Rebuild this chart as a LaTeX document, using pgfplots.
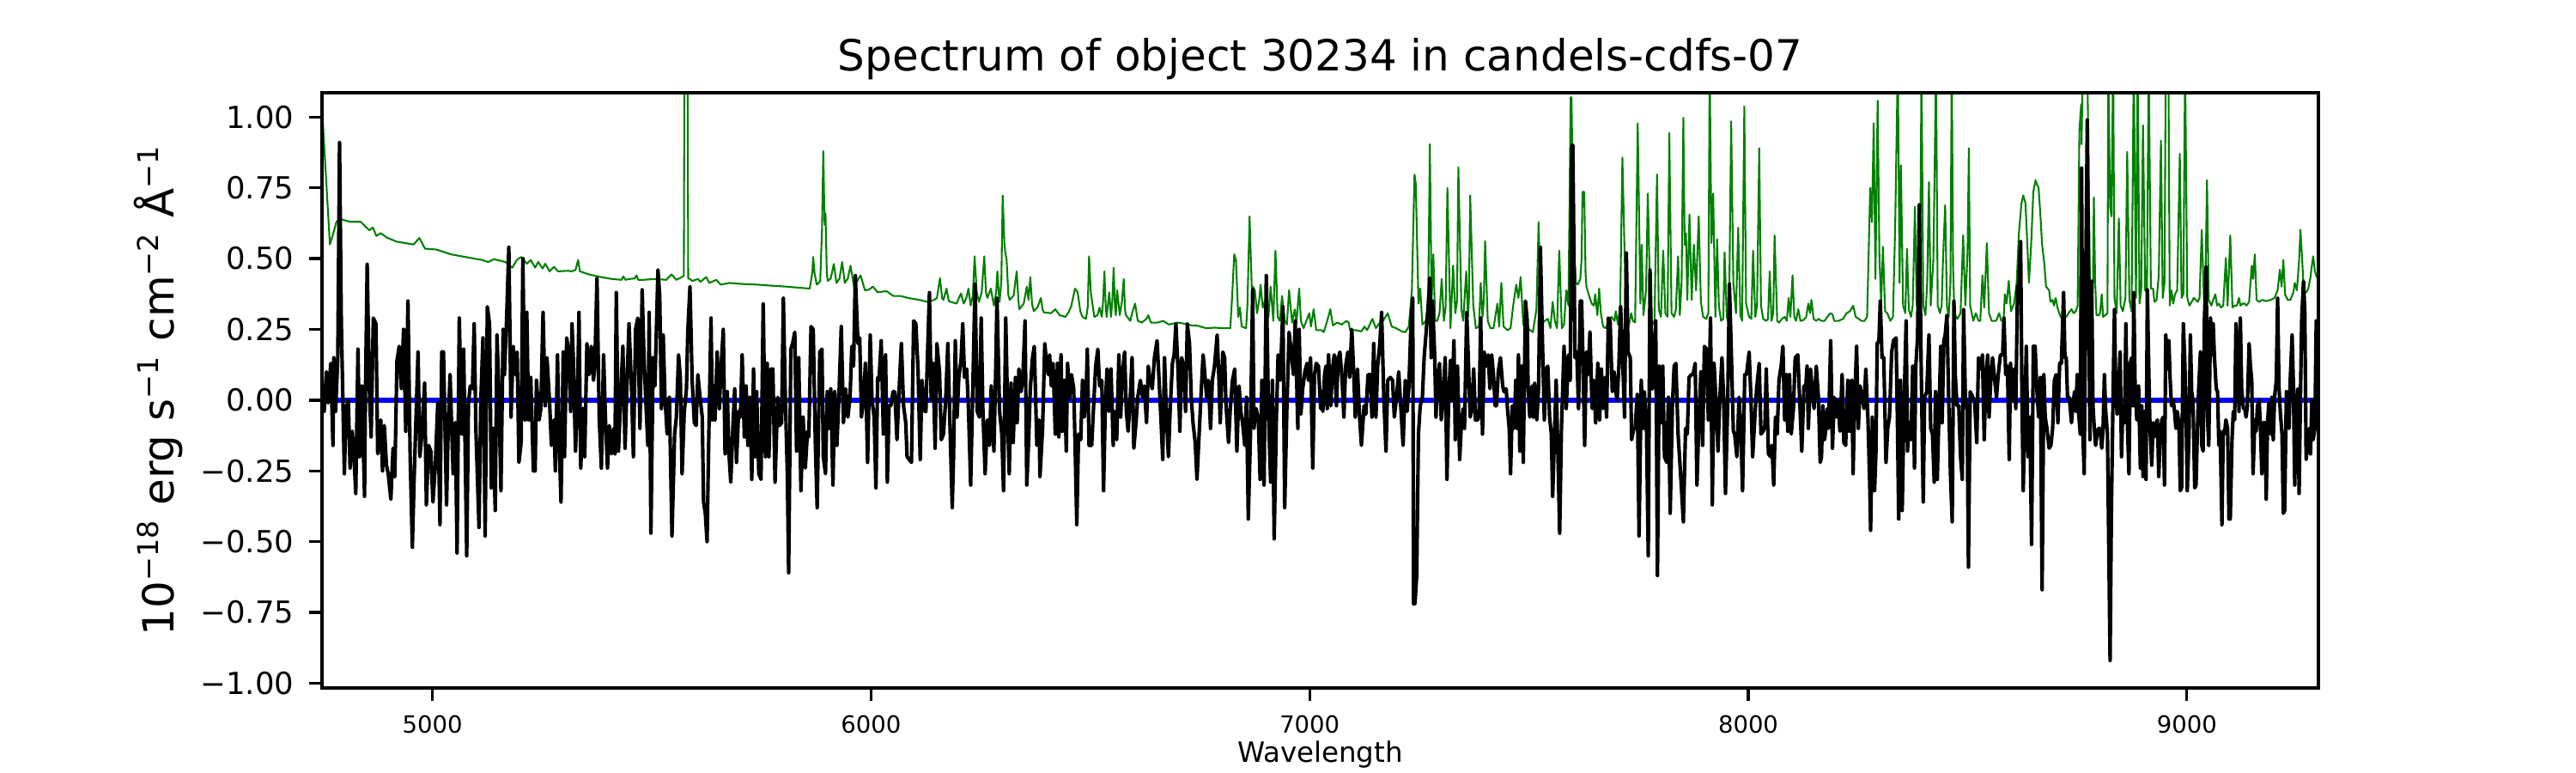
\documentclass[border=0pt]{standalone}
\usepackage{fontspec}
\setmainfont{DejaVu Sans}
\usepackage{pgfplots}
\pgfplotsset{compat=1.18}
\definecolor{mplgreen}{rgb}{0,0.5,0}
\begin{document}
\begin{tikzpicture}
\path[use as bounding box] (0,0) rectangle (720pt,216pt);
\begin{axis}[
  at={(90pt,23.76pt)}, anchor=south west,
  width=558pt, height=166.32pt, scale only axis,
  xmin=4748, xmax=9300, ymin=-1.017, ymax=1.086,
  axis line style={line width=0.8pt},
  axis on top,
  tick align=outside, major tick length=3.5pt,
  every tick/.style={black, line width=0.8pt},
  xtick pos=left, ytick pos=left,
  xtick={5000,6000,7000,8000,9000},
  xticklabels={5000,6000,7000,8000,9000},
  ytick={-1,-0.75,-0.5,-0.25,0,0.25,0.5,0.75,1},
  yticklabels={−1.00,−0.75,−0.50,−0.25,0.00,0.25,0.50,0.75,1.00},
  xticklabel style={font=\fontsize{6.6}{8}\selectfont, inner sep=0pt, anchor=north, yshift=-3.94pt},
  yticklabel style={font=\fontsize{8.5}{10}\selectfont, inner sep=0pt, anchor=east, xshift=-4.2pt},
  scaled ticks=false, no markers,
  every axis plot/.append style={line join=round},
]
\addplot[mplgreen, line width=0.5pt] coordinates {
(4750,0.98)(4766,0.55)(4772,0.58)(4781,0.63)(4790,0.64)(4800,0.635)(4813,0.63)(4836,0.63)(4856,0.60)(4864,0.61)(4872,0.58)(4882,0.59)(4895,0.575)(4918,0.56)(4937,0.555)(4957,0.55)(4970,0.573)(4983,0.535)(5009,0.532)(5042,0.515)(5074,0.506)(5113,0.495)(5127,0.488)(5140,0.498)(5166,0.488)(5182,0.468)(5192,0.495)(5202,0.506)(5215,0.482)(5224,0.495)(5234,0.468)(5241,0.488)(5251,0.465)(5257,0.482)(5267,0.455)(5277,0.471)(5286,0.455)(5309,0.457)
(5318,0.455)(5326,0.46)(5332,0.495)(5336,0.455)(5357,0.444)(5383,0.435)(5409,0.428)(5431,0.425)(5435,0.437)(5440,0.425)(5449,0.428)(5461,0.43)(5465,0.441)(5469,0.425)(5481,0.425)(5507,0.428)(5533,0.425)(5545,0.444)(5556,0.425)(5569,0.435)(5573,0.44)(5575,1.5)(5581,1.5)(5583,0.43)(5587,0.428)(5592,0.421)(5605,0.428)(5611,0.418)(5624,0.435)(5631,0.414)(5647,0.425)(5657,0.408)(5677,0.414)(5709,0.41)(5742,0.408)(5775,0.404)(5807,0.401)(5860,0.394)(5866,0.45)(5868,0.506)(5871,0.45)(5876,0.408)(5884,0.42)(5888,0.60)(5891,0.88)(5894,0.62)(5896,0.66)(5899,0.45)
(5901,0.421)(5908,0.43)(5915,0.481)(5921,0.414)(5928,0.43)(5934,0.488)(5940,0.414)(5947,0.43)(5953,0.475)(5961,0.401)(5968,0.42)(5976,0.441)(5986,0.388)(5995,0.39)(6004,0.401)(6015,0.381)(6035,0.385)(6051,0.368)(6067,0.368)(6084,0.361)(6110,0.354)(6129,0.347)(6143,0.354)(6150,0.36)(6157,0.431)(6162,0.36)(6165,0.354)(6172,0.394)(6177,0.35)(6182,0.347)(6195,0.341)(6200,0.36)(6205,0.377)(6211,0.341)(6217,0.36)(6222,0.394)(6227,0.334)(6232,0.37)(6236,0.508)(6241,0.38)(6246,0.347)(6252,0.38)(6258,0.508)(6262,0.38)(6265,0.361)(6273,0.394)(6280,0.334)(6285,0.38)(6288,0.455)(6291,0.38)(6293,0.347)(6297,0.42)(6300,0.723)(6304,0.55)(6306,0.522)(6309,0.495)(6313,0.37)(6316,0.354)(6325,0.37)(6332,0.455)(6336,0.35)(6338,0.321)(6348,0.341)(6355,0.401)(6359,0.354)(6363,0.435)(6367,0.34)(6371,0.314)(6380,0.33)(6387,0.361)(6391,0.32)(6394,0.310)(6410,0.307)(6420,0.321)(6430,0.300)(6443,0.294)(6450,0.31)(6456,0.330)
(6465,0.394)(6471,0.381)(6477,0.314)(6482,0.294)(6490,0.287)(6494,0.33)(6497,0.508)(6501,0.38)(6504,0.347)(6509,0.294)(6516,0.300)(6521,0.327)(6526,0.294)(6529,0.35)(6532,0.455)(6535,0.33)(6537,0.294)(6543,0.381)(6547,0.294)(6550,0.35)(6553,0.468)(6556,0.33)(6558,0.300)(6561,0.388)(6567,0.300)(6572,0.35)(6576,0.428)(6579,0.32)(6581,0.300)(6591,0.280)(6595,0.307)(6602,0.341)(6608,0.280)(6617,0.274)(6628,0.287)(6632,0.300)(6638,0.274)(6653,0.274)(6666,0.280)(6679,0.267)(6699,0.274)(6715,0.270)(6731,0.264)(6744,0.263)(6764,0.254)(6783,0.256)(6803,0.254)(6819,0.254)(6823,0.361)(6828,0.515)(6832,0.495)(6837,0.294)(6841,0.327)(6845,0.260)(6855,0.254)(6858,0.334)(6863,0.649)(6868,0.394)(6871,0.40)(6875,0.388)(6880,0.307)(6885,0.354)(6888,0.408)(6893,0.327)(6900,0.361)(6906,0.294)(6911,0.401)(6917,0.280)(6922,0.528)(6927,0.294)(6932,0.280)(6937,0.368)(6943,0.280)(6948,0.267)(6953,0.388)(6960,0.274)(6966,0.321)(6970,0.274)(6976,0.394)(6980,0.280)(6986,0.254)(6991,0.274)(6999,0.307)(7003,0.260)(7009,0.321)(7015,0.247)(7022,0.247)
(7027,0.247)(7032,0.240)(7039,0.274)(7047,0.321)(7053,0.264)(7063,0.274)(7073,0.267)(7084,0.280)(7089,0.274)(7092,0.247)(7105,0.247)(7118,0.243)(7125,0.260)(7131,0.247)(7143,0.287)(7151,0.254)(7158,0.270)(7167,0.280)(7178,0.307)(7187,0.260)(7197,0.254)(7210,0.243)(7218,0.240)(7226,0.260)(7233,0.388)(7239,0.797)(7242,0.763)(7248,0.341)(7252,0.394)(7257,0.267)(7265,0.280)(7270,0.33)(7274,0.904)(7278,0.354)(7282,0.515)(7286,0.280)(7291,0.280)(7296,0.307)(7301,0.428)(7306,0.280)(7310,0.33)(7314,0.750)(7321,0.254)(7327,0.475)(7332,0.307)(7336,0.35)(7339,0.823)(7346,0.321)(7350,0.280)(7357,0.455)(7361,0.294)(7363,0.35)(7366,0.723)(7373,0.334)(7379,0.254)(7386,0.260)(7390,0.414)(7394,0.294)(7397,0.35)(7400,0.562)(7406,0.280)(7412,0.254)(7419,0.254)(7428,0.341)(7432,0.260)(7437,0.414)(7442,0.260)(7451,0.247)(7458,0.254)(7464,0.334)(7471,0.408)(7476,0.361)(7481,0.435)(7487,0.267)(7497,0.254)(7509,0.240)(7517,0.321)(7522,0.629)(7528,0.267)(7536,0.280)(7543,0.287)(7549,0.254)(7554,0.347)(7559,0.280)(7564,0.254)(7569,0.528)(7575,0.254)(7580,0.267)(7585,0.388)(7590,0.334)(7595,1.07)
(7597,1.07)(7600,0.75)(7602,0.549)(7607,0.414)(7611,0.408)(7617,0.428)(7620,0.5)(7622,0.736)(7626,0.736)(7629,0.45)(7631,0.401)(7636,0.374)(7643,0.341)(7648,0.334)(7651,0.374)(7656,0.300)(7660,0.394)(7664,0.307)(7669,0.260)(7675,0.254)(7682,0.280)(7688,0.294)(7695,0.280)(7698,0.314)(7703,0.267)(7708,0.334)(7713,0.857)(7718,0.522)(7722,0.280)(7728,0.267)(7733,0.307)(7737,0.280)(7742,0.274)(7748,0.978)(7754,0.341)(7757,0.549)(7761,0.300)(7767,0.388)(7771,0.730)(7775,0.455)(7780,0.280)(7786,0.267)(7792,0.797)(7796,0.321)(7801,0.294)(7806,0.528)(7811,0.307)(7816,0.294)(7820,0.944)(7825,0.307)(7831,0.294)(7835,0.321)(7840,0.508)(7844,0.300)(7848,0.414)(7852,0.998)(7855,0.549)(7858,0.589)(7861,0.354)(7866,0.656)(7871,0.354)(7876,0.549)(7881,0.388)(7887,0.649)(7892,0.347)(7897,0.294)(7904,0.287)(7909,0.307)(7912,1.2)(7916,0.555)(7920,0.730)(7925,0.294)(7929,0.569)(7933,0.334)(7938,0.280)(7943,0.287)(7946,0.522)(7951,0.294)(7955,0.274)(7957,0.414)(7961,0.985)(7966,0.414)(7972,0.307)(7977,0.609)(7982,0.300)(7986,0.280)(7991,1.038)(7995,0.341)(8002,0.294)(8007,0.287)(8011,0.528)(8016,0.294)(8020,0.334)(8025,0.890)(8029,0.334)(8034,0.287)(8041,0.280)(8045,0.287)(8049,0.455)(8053,0.280)(8057,0.307)(8060,0.582)(8066,0.280)(8070,0.274)(8077,0.287)(8083,0.294)(8088,0.280)(8092,0.361)(8096,0.294)(8101,0.441)(8105,0.294)(8109,0.280)(8114,0.321)(8119,0.280)(8126,0.283)(8132,0.294)(8137,0.341)(8141,0.307)(8144,0.354)(8149,0.287)(8155,0.280)(8160,0.287)
(8167,0.280)(8174,0.280)(8180,0.294)(8187,0.307)(8192,0.303)(8196,0.280)(8206,0.280)(8216,0.287)(8224,0.307)(8232,0.314)(8239,0.334)(8245,0.294)(8252,0.287)(8258,0.280)(8265,0.280)(8271,0.294)(8275,0.549)(8278,0.750)(8282,0.629)(8286,0.978)(8290,0.428)(8295,1.058)(8299,0.508)(8303,0.341)(8307,0.542)(8312,0.314)(8317,0.307)(8324,0.280)(8330,0.294)(8335,0.616)(8341,1.2)(8345,0.414)(8348,0.830)(8353,0.334)(8358,0.307)(8362,0.535)(8366,0.321)(8371,0.294)(8375,0.334)(8380,0.683)(8384,0.341)(8389,0.294)(8392,0.495)(8395,1.2)(8399,0.334)(8404,0.300)(8408,0.414)(8412,0.770)(8416,0.334)(8422,0.495)(8425,0.817)(8428,1.2)(8432,0.334)(8437,0.307)(8441,0.334)(8444,0.495)(8449,0.689)(8453,0.334)(8457,0.294)(8461,0.414)(8464,1.2)(8467,0.468)(8470,0.307)(8477,0.287)(8484,0.307)(8490,0.582)(8495,0.334)(8500,0.522)(8503,0.890)(8506,0.334)(8513,0.280)(8519,0.307)(8525,0.280)(8529,0.280)(8534,0.441)(8538,0.327)(8544,0.555)(8549,0.307)(8555,0.280)(8565,0.280)(8572,0.307)(8577,0.280)(8582,0.280)(8585,0.374)(8589,0.341)(8594,0.421)(8599,0.314)(8606,0.341)(8612,0.414)(8617,0.589)(8623,0.696)(8627,0.723)(8632,0.696)(8636,0.562)(8640,0.414)(8645,0.549)(8650,0.736)(8655,0.777)(8658,0.763)(8662,0.750)(8666,0.656)(8670,0.549)(8675,0.482)(8679,0.401)(8686,0.388)(8689,0.347)(8694,0.354)(8697,0.334)(8701,0.361)(8705,0.327)(8712,0.294)(8719,0.287)(8725,0.294)(8730,0.307)(8737,0.321)
(8742,0.307)(8747,0.314)(8751,0.334)(8755,0.951)(8759,1.045)(8760,0.904)(8763,1.2)(8766,1.2)(8770,1.2)(8773,1.2)(8776,0.817)(8779,0.414)(8783,0.307)(8786,0.414)(8788,0.716)(8791,0.414)(8794,0.300)(8799,0.300)(8802,0.307)(8806,0.374)(8809,0.294)(8814,0.300)(8819,0.307)(8821,1.2)(8825,0.683)(8828,0.649)(8832,1.2)(8835,0.361)(8840,0.307)(8845,0.642)(8849,0.334)(8854,0.314)(8860,0.361)(8864,0.877)(8869,0.354)(8874,0.314)(8879,1.2)(8884,0.361)(8888,1.2)(8892,0.341)(8896,0.388)(8900,0.971)(8905,0.388)(8909,0.381)(8913,1.2)(8918,0.394)(8923,0.394)(8926,0.347)(8931,0.354)(8936,0.441)(8941,0.917)(8945,0.361)(8949,0.414)(8952,1.2)(8958,1.2)(8961,0.334)(8965,0.388)(8969,0.341)(8973,0.374)(8978,0.388)(8984,0.870)(8988,0.361)(8992,0.374)(8996,1.2)(9001,0.361)(9006,0.334)(9011,0.347)(9016,0.361)(9021,0.354)(9025,0.347)(9029,0.361)(9034,0.602)(9039,0.361)(9042,0.388)(9046,0.777)(9050,0.354)(9056,0.334)(9060,0.354)(9065,0.374)(9069,0.334)(9073,0.341)(9078,0.327)(9083,0.334)(9089,0.502)(9093,0.334)(9099,0.582)(9104,0.327)(9109,0.334)(9114,0.334)(9119,0.361)(9122,0.334)(9127,0.341)(9132,0.341)(9136,0.334)(9142,0.347)(9148,0.475)(9151,0.428)(9155,0.515)(9159,0.354)(9165,0.347)(9171,0.354)(9181,0.350)(9191,0.354)(9200,0.361)(9207,0.388)(9212,0.461)(9216,0.401)(9220,0.495)(9224,0.374)(9230,0.354)(9236,0.354)(9243,0.381)(9246,0.414)(9251,0.388)(9256,0.495)(9259,0.602)(9263,0.495)(9267,0.374)(9272,0.381)(9277,0.394)(9282,0.435)(9285,0.475)(9288,0.508)(9292,0.455)(9295,0.441)(9298,0.428)
};
\addplot[blue, line width=1.5pt] coordinates {(4748,0) (9298,0)};
\addplot[black, line width=1pt] coordinates {
(4748,-0.03)(4753,-0.04)(4758,0.10)(4762,-0.01)(4768,0.13)(4773,-0.16)(4775,0.15)(4779,-0.04)(4784,0.15)(4788,0.91)(4792,0.28)(4799,-0.26)(4803,-0.03)(4808,0.00)(4812,-0.24)(4817,-0.11)(4821,-0.20)(4825,-0.33)(4830,0.18)(4834,-0.20)(4839,0.05)(4845,-0.34)(4847,0.01)(4851,0.48)(4856,0.04)(4860,-0.13)(4865,0.29)(4871,0.27)(4875,-0.19)(4882,-0.07)(4886,-0.25)(4890,-0.09)(4895,-0.23)(4899,-0.26)(4905,-0.35)(4910,-0.17)(4914,-0.27)(4919,0.14)(4924,0.19)(4929,0.04)(4934,0.25)(4939,-0.11)(4944,0.35)(4949,-0.20)(4954,-0.52)(4958,-0.28)(4967,0.17)(4971,-0.20)(4976,-0.12)(4982,0.06)(4986,-0.37)(4991,-0.16)(4996,-0.18)(5001,-0.36)(5006,-0.24)(5012,-0.01)(5017,-0.44)(5021,0.17)(5025,0.17)(5032,-0.37)(5036,-0.08)(5040,0.09)(5047,-0.26)(5052,-0.08)(5056,-0.54)(5061,0.29)(5067,-0.12)(5071,0.18)(5078,-0.55)(5082,-0.01)(5086,0.05)(5091,0.04)(5095,0.27)(5099,-0.11)(5106,-0.45)(5110,-0.01)(5115,0.22)(5120,-0.48)(5125,0.33)(5130,0.27)(5134,-0.31)(5138,-0.10)(5143,-0.39)(5147,0.23)(5151,0.05)(5156,-0.32)(5161,0.25)(5164,0.09)(5169,0.29)(5174,0.54)(5179,-0.06)(5184,0.19)(5189,0.09)(5193,0.17)(5197,-0.22)(5202,-0.15)(5206,0.50)(5211,-0.07)(5215,0.31)(5219,-0.07)(5224,0.08)(5230,-0.25)(5234,-0.25)(5237,0.07)(5243,-0.07)(5247,-0.03)(5252,0.31)(5257,-0.02)(5261,0.15)(5267,-0.01)(5271,-0.16)(5277,-0.07)(5280,-0.25)(5285,0.16)(5288,-0.11)(5293,-0.36)(5298,0.17)(5301,-0.20)(5306,0.22)(5311,0.16)(5315,-0.04)
(5318,0.27)(5321,0.15)(5326,-0.18)(5330,-0.02)(5334,0.31)(5338,-0.24)(5343,-0.03)(5347,-0.20)(5352,0.20)(5357,0.09)(5362,0.19)(5367,0.07)(5370,0.12)(5375,0.43)(5380,-0.06)(5385,-0.24)(5390,0.16)(5395,-0.10)(5399,-0.24)(5403,-0.09)(5408,-0.19)(5413,-0.10)(5416,-0.19)(5419,0.38)(5424,-0.18)(5429,0.01)(5434,0.19)(5439,-0.17)(5443,0.04)(5448,0.27)(5454,0.03)(5458,-0.20)(5463,0.25)(5468,0.29)(5473,-0.10)(5478,0.39)(5482,0.16)(5486,0.01)(5491,-0.16)(5494,0.31)(5498,-0.47)(5503,0.15)(5507,0.05)(5511,0.28)(5514,0.46)(5518,0.37)(5522,-0.03)(5526,0.23)(5530,0.01)(5535,-0.12)(5540,0.01)(5546,-0.48)(5552,-0.12)(5556,-0.06)(5561,0.16)(5565,0.08)(5569,-0.26)(5574,-0.04)(5579,0.04)(5582,0.24)(5587,0.40)(5592,0.07)(5597,-0.08)(5601,-0.09)(5605,0.09)(5610,0.01)(5615,-0.06)(5618,-0.36)(5622,-0.40)(5626,-0.50)(5630,-0.12)(5635,0.29)(5638,-0.07)(5641,0.05)(5644,-0.07)(5649,0.17)(5654,-0.03)(5657,0.09)(5663,0.25)(5667,-0.19)(5672,0.03)(5676,-0.19)(5680,-0.29)(5685,-0.09)(5689,0.04)(5693,-0.22)(5698,-0.04)(5702,-0.06)(5706,0.16)(5711,-0.13)(5715,0.05)(5719,-0.16)(5724,0.01)(5728,-0.28)(5732,0.11)(5736,-0.20)(5739,0.03)(5744,-0.26)(5749,-0.28)(5754,0.34)(5759,-0.20)(5763,0.13)(5767,-0.20)(5772,0.11)(5776,0.11)(5781,-0.29)(5787,0.01)(5791,-0.09)(5796,-0.08)(5800,0.36)(5804,0.04)(5809,-0.26)(5812,-0.61)(5817,0.18)(5821,0.20)(5826,0.24)(5830,-0.18)(5835,0.15)(5840,-0.32)(5845,-0.06)(5850,-0.24)(5855,-0.11)(5858,-0.13)(5863,0.26)(5868,0.25)(5873,-0.16)(5877,-0.38)(5883,0.17)
(5888,0.18)(5891,-0.20)(5896,-0.26)(5900,0.03)(5904,-0.10)(5908,0.04)(5913,-0.30)(5917,0.03)(5922,-0.16)(5927,0.03)(5932,0.26)(5937,-0.08)(5942,0.04)(5947,-0.06)(5952,0.01)(5956,0.19)(5960,0.12)(5964,0.44)(5970,0.20)(5974,0.22)(5978,-0.06)(5983,0.01)(5987,0.13)(5992,-0.22)(5998,0.23)(6002,0.00)(6007,-0.06)(6011,-0.31)(6015,0.08)(6018,0.07)(6023,0.21)(6028,-0.12)(6033,0.16)(6037,-0.29)(6041,-0.02)(6045,-0.02)(6050,0.03)(6054,0.03)(6059,-0.14)(6064,0.04)(6069,0.20)(6074,-0.02)(6079,-0.08)(6082,-0.20)(6087,-0.21)(6092,-0.22)(6097,0.28)(6102,0.27)(6107,0.11)(6112,-0.21)(6116,0.07)(6122,-0.04)(6125,-0.04)(6128,0.13)(6133,0.38)(6137,0.00)(6141,0.13)(6146,-0.17)(6150,0.20)(6156,0.10)(6160,-0.14)(6165,-0.12)(6170,0.00)(6175,0.20)(6180,-0.10)(6185,-0.38)(6188,-0.20)(6192,0.21)(6196,-0.06)(6200,0.08)(6205,0.14)(6209,0.27)(6213,0.08)(6218,0.11)(6222,-0.03)(6227,-0.30)(6233,0.12)(6237,0.41)(6242,-0.04)(6247,-0.06)(6251,0.29)(6255,-0.04)(6260,-0.26)(6265,-0.07)(6270,-0.16)(6274,0.05)(6280,-0.18)(6284,0.10)(6287,0.36)(6293,-0.04)(6298,-0.12)(6302,-0.32)(6307,0.29)(6312,-0.10)(6315,-0.26)(6319,0.06)(6324,-0.15)(6329,0.08)(6333,-0.08)(6337,0.11)(6342,0.03)(6346,0.08)(6351,0.28)(6355,-0.30)(6359,-0.15)(6363,0.04)(6368,0.15)(6372,0.19)(6378,-0.16)(6383,-0.07)(6385,-0.27)(6391,-0.10)(6396,0.20)(6400,0.13)(6404,0.09)(6407,0.16)(6411,0.05)(6415,0.13)(6420,-0.12)(6425,0.13)(6428,-0.13)(6433,0.16)(6436,-0.11)(6441,0.07)(6445,-0.18)(6448,0.13)(6453,0.01)
(6457,0.09)(6462,0.04)(6465,-0.15)(6469,-0.44)(6473,-0.12)(6478,-0.14)(6482,0.07)(6486,-0.06)(6490,0.01)(6493,0.18)(6497,-0.16)(6503,-0.16)(6508,0.00)(6512,0.12)(6517,0.18)(6521,0.05)(6526,0.07)(6530,-0.32)(6534,-0.02)(6538,0.11)(6542,-0.04)(6547,0.11)(6552,-0.16)(6555,-0.04)(6560,-0.14)(6565,0.16)(6569,-0.06)(6573,0.09)(6578,0.17)(6582,-0.04)(6586,-0.11)(6591,0.01)(6595,0.15)(6599,-0.17)(6604,-0.08)(6608,0.01)(6614,0.07)(6619,0.01)(6623,0.05)(6628,-0.08)(6632,0.12)(6636,0.07)(6641,0.04)(6646,0.15)(6652,0.21)(6656,0.09)(6661,-0.07)(6665,-0.21)(6669,0.15)(6674,-0.08)(6678,-0.20)(6682,-0.03)(6687,0.13)(6691,0.16)(6695,0.27)(6700,0.10)(6704,-0.11)(6708,0.15)(6713,0.12)(6717,-0.04)(6721,0.27)(6726,0.20)(6730,0.01)(6734,-0.08)(6739,-0.15)(6743,-0.28)(6747,-0.15)(6752,0.01)(6757,0.16)(6760,0.11)(6765,0.01)(6769,0.07)(6774,-0.10)(6778,0.07)(6783,0.12)(6789,0.23)(6793,0.08)(6796,-0.08)(6802,0.17)(6806,0.15)(6809,-0.01)(6815,-0.15)(6819,-0.03)(6824,0.07)(6829,0.11)(6834,-0.18)(6839,0.05)(6843,-0.04)(6847,-0.08)(6852,-0.16)(6856,0.01)(6860,-0.42)(6865,-0.12)(6870,0.39)(6873,-0.10)(6878,-0.03)(6883,-0.07)(6887,-0.28)(6891,0.07)(6896,-0.30)(6901,0.44)(6906,-0.04)(6911,-0.29)(6915,0.07)(6919,-0.49)(6924,-0.07)(6928,0.16)(6933,0.07)(6939,0.33)(6943,-0.38)(6948,-0.03)(6953,0.24)(6958,0.17)(6963,0.09)(6967,0.28)(6973,-0.10)(6976,0.25)(6980,-0.05)(6984,0.04)(6989,0.10)(6994,0.13)(6997,0.07)(7002,0.15)(7007,-0.24)(7011,0.09)(7015,0.13)(7020,0.12)(7025,-0.03)
(7027,0.03)(7030,-0.04)(7034,0.09)(7037,0.12)(7040,-0.03)(7043,0.16)(7048,-0.02)(7052,0.11)(7056,0.16)(7061,-0.02)(7065,0.15)(7069,0.17)(7074,0.07)(7078,-0.06)(7082,0.12)(7087,0.17)(7091,0.08)(7096,0.25)(7100,0.11)(7104,-0.06)(7109,0.11)(7113,-0.04)(7118,-0.16)(7124,-0.02)(7128,-0.05)(7133,0.09)(7138,0.09)(7142,-0.06)(7146,0.20)(7151,-0.06)(7155,0.12)(7160,0.20)(7164,0.31)(7169,0.01)(7174,-0.18)(7178,0.07)(7184,0.08)(7189,0.07)(7193,-0.06)(7198,0.01)(7203,0.10)(7208,-0.03)(7213,-0.16)(7218,0.07)(7222,-0.04)(7226,0.04)(7231,0.27)(7235,0.36)(7237,-0.72)(7240,-0.72)(7244,-0.62)(7248,-0.12)(7252,-0.02)(7257,0.01)(7261,0.15)(7265,0.23)(7270,0.33)(7274,0.43)(7277,0.15)(7280,0.35)(7285,0.16)(7288,-0.06)(7291,0.05)(7296,0.13)(7300,-0.07)(7304,0.01)(7309,0.15)(7313,-0.28)(7317,0.01)(7321,0.14)(7324,0.00)(7329,0.21)(7332,-0.14)(7337,0.12)(7342,-0.21)(7346,-0.08)(7350,-0.03)(7353,-0.10)(7358,0.31)(7362,0.13)(7366,-0.06)(7370,-0.03)(7374,0.11)(7378,-0.07)(7383,-0.07)(7386,-0.06)(7390,0.29)(7394,-0.12)(7398,0.17)(7402,0.12)(7407,0.16)(7411,0.04)(7415,0.16)(7419,0.09)(7423,-0.02)(7426,-0.02)(7430,0.10)(7435,0.15)(7440,0.05)(7443,0.03)(7448,0.04)(7451,-0.03)(7455,-0.10)(7458,-0.26)(7462,-0.02)(7466,-0.10)(7470,0.07)(7473,-0.10)(7476,0.16)(7479,-0.18)(7483,0.12)(7487,-0.22)(7492,0.35)(7496,0.28)(7498,0.04)(7502,-0.06)(7507,0.05)(7510,-0.06)(7513,0.06)(7518,-0.07)(7522,0.05)(7526,0.54)(7531,0.19)(7535,-0.07)(7539,0.11)(7543,0.12)(7547,-0.06)(7551,-0.12)(7554,-0.34)(7559,-0.08)(7562,0.07)(7567,-0.26)(7570,-0.47)(7574,-0.10)(7577,0.04)(7580,0.19)(7585,-0.03)(7590,0.16)(7594,0.07)(7598,0.90)
(7600,0.90)(7605,0.15)(7609,0.17)(7613,-0.03)(7617,0.35)(7620,0.35)(7623,0.15)(7627,-0.16)(7631,0.17)(7635,0.09)(7639,0.24)(7644,-0.03)(7648,0.07)(7652,-0.08)(7657,0.13)(7661,-0.07)(7665,0.11)(7669,-0.03)(7673,0.08)(7677,-0.06)(7681,0.29)(7685,0.28)(7690,0.03)(7694,0.10)(7698,0.03)(7701,0.00)(7705,0.12)(7709,0.33)(7713,0.17)(7718,-0.06)(7722,0.52)(7726,0.17)(7731,0.15)(7734,-0.14)(7739,-0.10)(7742,-0.10)(7747,0.02)(7751,-0.48)(7756,0.07)(7760,-0.10)(7763,0.03)(7768,-0.10)(7772,-0.55)(7776,0.46)(7781,0.04)(7785,0.15)(7789,0.28)(7793,-0.62)(7797,0.12)(7801,-0.08)(7805,0.12)(7809,-0.20)(7814,-0.22)(7818,0.01)(7822,-0.40)(7827,-0.02)(7831,0.12)(7835,0.13)(7840,-0.12)(7844,-0.22)(7848,-0.32)(7852,-0.43)(7857,-0.10)(7861,-0.12)(7865,0.08)(7870,0.09)(7874,0.09)(7879,0.13)(7883,-0.30)(7887,-0.10)(7892,0.10)(7896,-0.16)(7900,0.19)(7905,0.18)(7909,-0.07)(7914,0.29)(7918,-0.37)(7922,0.13)(7927,-0.02)(7931,-0.18)(7935,0.00)(7940,0.15)(7944,0.00)(7948,-0.33)(7953,-0.02)(7957,0.41)(7961,0.19)(7966,-0.11)(7969,-0.12)(7974,-0.20)(7979,0.01)(7983,-0.10)(7987,-0.32)(7992,0.09)(7996,0.09)(8002,0.17)(8006,0.01)(8010,-0.20)(8015,-0.06)(8019,0.04)(8025,0.13)(8029,-0.12)(8034,-0.11)(8038,-0.09)(8041,0.11)(8046,-0.19)(8051,-0.20)(8054,-0.16)(8058,-0.30)(8062,-0.06)(8066,-0.12)(8070,0.07)(8075,0.12)(8079,0.19)(8083,-0.07)(8087,0.09)(8090,-0.11)(8094,0.09)(8098,-0.12)(8103,-0.03)(8107,0.15)(8113,0.16)(8117,0.01)(8122,-0.18)(8127,0.05)(8131,0.04)(8134,0.12)(8137,-0.10)(8142,0.11)(8147,0.01)(8150,-0.03)(8155,0.12)(8160,0.01)(8164,-0.22)
(8167,-0.20)(8170,-0.02)(8174,-0.14)(8177,-0.10)(8180,-0.03)(8183,-0.10)(8188,0.21)(8192,-0.17)(8196,0.01)(8201,-0.06)(8205,0.00)(8209,-0.11)(8214,0.09)(8218,-0.15)(8222,-0.16)(8227,0.07)(8231,-0.11)(8236,0.07)(8239,-0.26)(8242,-0.04)(8247,0.19)(8251,-0.10)(8255,0.05)(8260,0.01)(8264,-0.03)(8268,0.11)(8273,-0.07)(8277,-0.30)(8279,-0.46)(8283,-0.06)(8288,-0.32)(8291,-0.19)(8294,0.20)(8298,0.21)(8301,0.35)(8305,0.15)(8309,0.15)(8314,-0.22)(8318,-0.10)(8322,-0.06)(8327,0.17)(8331,0.21)(8337,0.22)(8340,-0.06)(8343,-0.42)(8347,0.07)(8351,-0.39)(8355,-0.03)(8360,0.28)(8363,-0.18)(8367,-0.08)(8371,-0.14)(8375,0.12)(8379,-0.24)(8382,0.12)(8386,0.22)(8390,0.69)(8394,0.15)(8399,-0.36)(8402,0.01)(8407,0.03)(8412,0.23)(8416,-0.10)(8420,-0.12)(8424,-0.29)(8427,0.03)(8431,-0.28)(8435,-0.03)(8439,0.19)(8442,-0.08)(8446,0.21)(8449,0.23)(8453,0.30)(8457,0.00)(8461,-0.26)(8465,-0.43)(8469,0.35)(8472,0.09)(8476,-0.02)(8480,-0.02)(8484,-0.20)(8488,-0.28)(8491,0.32)(8495,0.01)(8499,-0.04)(8502,-0.59)(8506,0.03)(8512,0.01)(8516,0.00)(8521,-0.15)(8525,0.15)(8529,0.11)(8534,0.16)(8538,-0.14)(8542,0.09)(8546,0.16)(8549,-0.06)(8553,0.07)(8557,0.15)(8562,0.07)(8566,0.01)(8570,0.09)(8575,0.16)(8580,0.16)(8583,0.29)(8587,0.09)(8591,0.12)(8595,-0.21)(8598,0.13)(8602,0.00)(8606,0.11)(8610,-0.03)(8614,0.40)(8617,0.41)(8621,0.56)(8624,0.01)(8627,-0.32)(8630,-0.08)(8634,0.19)(8638,-0.20)(8642,-0.06)(8646,-0.51)(8650,0.19)(8654,0.19)(8658,0.04)(8662,-0.06)(8666,0.08)(8670,-0.67)(8674,0.09)(8677,-0.06)(8681,-0.10)(8686,-0.17)(8690,-0.16)(8694,-0.10)(8698,0.07)(8702,0.09)(8706,-0.08)(8710,0.13)(8714,0.13)(8719,0.38)(8722,0.15)(8725,0.15)(8728,0.01)(8732,0.01)
(8737,-0.08)(8740,-0.02)(8744,0.03)(8747,-0.04)(8750,0.09)(8753,-0.04)(8757,-0.12)(8760,0.82)(8763,-0.12)(8766,-0.26)(8770,0.52)(8773,0.99)(8776,0.41)(8779,-0.14)(8783,0.42)(8786,-0.02)(8789,-0.10)(8792,-0.16)(8796,-0.11)(8799,-0.10)(8802,-0.10)(8806,-0.17)(8809,-0.10)(8812,0.09)(8815,-0.04)(8819,-0.12)(8822,-0.52)(8825,-0.92)(8828,-0.39)(8832,0.04)(8835,0.32)(8838,0.03)(8841,-0.05)(8845,0.07)(8848,0.17)(8851,-0.20)(8854,-0.03)(8858,-0.08)(8861,0.27)(8864,-0.06)(8868,-0.26)(8871,0.13)(8874,0.15)(8877,-0.02)(8879,0.38)(8882,0.05)(8886,-0.07)(8890,0.05)(8894,-0.24)(8897,-0.02)(8900,-0.27)(8903,-0.04)(8907,-0.28)(8910,0.39)(8913,0.12)(8916,-0.10)(8920,-0.23)(8923,-0.08)(8926,-0.13)(8930,-0.08)(8933,-0.07)(8936,-0.27)(8939,-0.13)(8943,-0.07)(8946,-0.06)(8949,-0.30)(8952,0.23)(8956,0.11)(8959,0.21)(8962,0.07)(8965,-0.02)(8969,0.00)(8972,-0.04)(8975,-0.10)(8978,-0.04)(8982,-0.08)(8985,-0.32)(8988,-0.31)(8992,0.27)(8995,0.15)(8998,-0.02)(9001,-0.32)(9005,-0.12)(9008,0.23)(9011,0.03)(9014,0.00)(9018,-0.31)(9021,-0.30)(9024,-0.11)(9027,0.04)(9031,0.17)(9034,-0.16)(9037,-0.18)(9040,0.28)(9044,0.47)(9047,-0.06)(9050,-0.16)(9054,0.29)(9057,0.16)(9060,0.27)(9063,0.15)(9067,0.04)(9070,0.03)(9073,-0.16)(9076,-0.11)(9080,-0.44)(9083,-0.11)(9086,-0.12)(9089,-0.07)(9093,-0.10)(9096,-0.42)(9099,-0.42)(9103,-0.14)(9106,-0.04)(9109,-0.07)(9112,0.27)(9116,0.15)(9119,-0.04)(9122,0.29)(9125,0.04)(9129,-0.03)(9132,-0.03)(9135,-0.06)(9138,-0.02)(9142,0.20)(9145,0.12)(9148,0.07)(9151,-0.26)(9155,-0.07)(9158,-0.11)(9161,-0.02)(9165,0.00)(9168,-0.11)(9171,-0.26)(9174,-0.08)(9178,-0.08)(9181,-0.35)(9184,-0.08)(9187,-0.01)(9191,-0.12)(9194,0.01)(9197,-0.14)(9200,0.01)(9204,0.07)(9207,0.36)(9210,0.05)(9213,-0.04)(9217,-0.12)(9220,-0.40)(9223,-0.39)(9227,0.03)(9230,-0.06)(9233,-0.10)(9236,0.08)(9240,0.23)(9243,0.05)(9246,-0.30)(9249,-0.04)(9253,0.04)(9256,-0.33)(9259,0.01)(9262,0.29)(9266,0.42)(9269,0.31)(9272,-0.21)(9275,-0.15)(9279,-0.10)(9282,-0.19)(9285,0.00)(9288,-0.14)(9292,-0.10)(9295,0.28)(9298,0.28)
};
\end{axis}
\node[anchor=base, inner sep=0pt, font=\fontsize{12}{14}\selectfont] at (369pt,196.1pt) {Spectrum of object 30234 in candels-cdfs-07};
\node[anchor=base, inner sep=0pt, font=\fontsize{7.8}{9}\selectfont] at (369pt,2.95pt) {Wavelength};
\node[rotate=90, anchor=base, inner sep=0pt, font=\fontsize{12}{14}\selectfont] at (48.7pt,106.92pt) {10\textsuperscript{−18} erg s\textsuperscript{−1} cm\textsuperscript{−2} Å\textsuperscript{−1}};
\end{tikzpicture}
\end{document}
